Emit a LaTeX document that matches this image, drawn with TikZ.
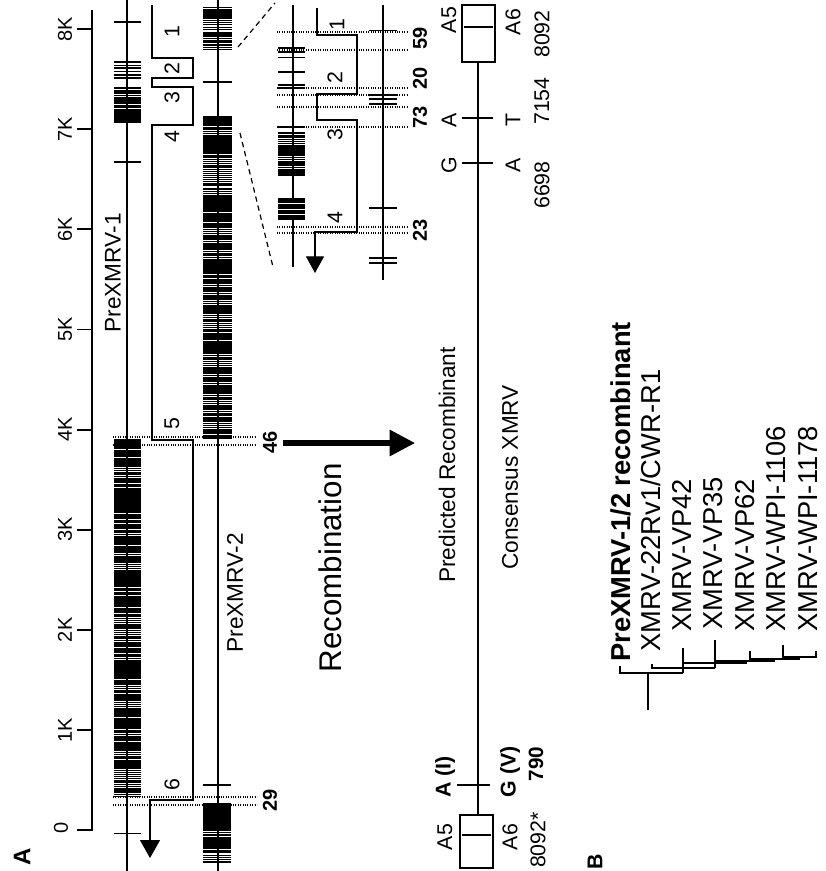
\documentclass[tikz,border=0pt]{standalone}
\usepackage{fontspec}
\setmainfont{Liberation Sans}
\usetikzlibrary{arrows.meta}
\newcommand\mutmarks[6]{%
  \pgfmathsetseed{#6}%
  \pgfmathtruncatemacro\mutn{((#4)-(#3))/(#5)}%
  \foreach \mi in {0,...,\mutn}{%
    \pgfmathsetmacro\muty{#3+\mi*#5+rnd*#5*0.4}%
    \pgfmathsetmacro\mutw{0.3+rnd*1.9}%
    \draw[line width=\mutw pt] (#1,\muty) -- (#2,\muty);%
  }%
}
\begin{document}
\begin{tikzpicture}[x=0.75pt,y=-0.75pt,
  rt/.style={rotate=90,inner sep=0pt},
  axl/.style={rt,font=\fontsize{15}{15}\selectfont},
  big/.style={rt,font=\fontsize{17}{17}\selectfont},
  seg/.style={rt,font=\fontsize{16}{16}\selectfont},
  bnum/.style={rt,font=\bfseries\fontsize{15}{15}\selectfont},
  tree/.style={rt,anchor=west,font=\fontsize{20.5}{20.5}\selectfont},
  genome/.style={line width=1.5pt},
  rpath/.style={line width=0.9pt},
  dots/.style={densely dotted,line width=0.8pt},
  brk/.style={line width=0.7pt}]
\useasboundingbox (0,0) rectangle (825,871);
\fill[white] (0,0) rectangle (825,871);

% ---------- axis ----------
\draw[line width=1.4pt] (92,10) -- (92,830) -- (77,830);
\foreach \k in {1,...,8}{
  \draw[line width=1.4pt] (77,{830-100.1*\k}) -- (92,{830-100.1*\k});
  \node[axl] (ax\k) at (65,{830-100.1*\k}) {\k K};
}
\node[axl] (ax0) at (61,828) {0};

% ---------- genome lines ----------
\draw[genome] (127,0) -- (127,871);
\draw[genome] (218,0) -- (218,871);

% PreXMRV-1 marks
\foreach \yy/\ww in {22/1.0,62/0.8,65/0.6,68/1.0,71/0.6,75/1.3,78/0.8,162/1.6,833/0.6}
  \draw[line width=\ww pt] (114,\yy) -- (141,\yy);
\mutmarks{114}{141}{88}{112}{2.4}{3}
\fill (114,112) rectangle (141,123);
\mutmarks{114}{141}{440}{797}{2.0}{5}

% PreXMRV-2 marks
\mutmarks{203}{232}{7}{50}{2.2}{7}
\draw[line width=1.3pt] (203,82) -- (232,82);
\mutmarks{203}{232}{117}{437}{2.0}{9}
\draw[line width=1.4pt] (203,785) -- (231,785);
\fill (203,803) rectangle (231,826);
\mutmarks{203}{231}{826}{862}{2.2}{11}

% recombination path (main)
\draw[rpath,-{Triangle[width=15pt,length=13.5pt]}]
  (152,5) -- (152,58) -- (193,58) -- (193,78) -- (152,78) -- (152,87)
  -- (193,87) -- (193,125) -- (152,125) -- (152,440) -- (193,440)
  -- (193,800) -- (150,800) -- (150,858);

% breakpoint dotted lines (main)
\draw[dots] (113,437) -- (255,437);
\draw[dots] (113,445) -- (255,445);
\draw[dots] (113,797) -- (257,797);
\draw[dots] (113,805) -- (257,805);
\node[bnum] (b46) at (270,442) {46};
\node[bnum] (b29) at (270,800) {29};

\node[big] (p1) at (113,273) {PreXMRV-1};
\node[big] (p2) at (235,593) {PreXMRV-2};

\node[seg] (s1) at (172,32) {1};
\node[seg] (s2) at (172,69) {2};
\node[seg] (s3) at (172,98) {3};
\node[seg] (s4) at (172,137) {4};
\node[seg] (s5) at (172,424) {5};
\node[seg] (s6) at (172,785) {6};

% ---------- inset ----------
\draw[dashed,line width=0.9pt,dash pattern=on 4pt off 3pt] (238,47) -- (275,3);
\draw[dashed,line width=0.9pt,dash pattern=on 4pt off 3pt] (240,133) -- (273,267);
\draw[genome] (293,5) -- (293,267);
\draw[genome] (383,5) -- (383,280);
% inset-1 marks
\foreach \yy/\ww in {48/0.8,52/1.0,57/0.7,72/0.9,85/1.0,88/0.8,127/1.5}
  \draw[line width=\ww pt] (278,\yy) -- (305,\yy);
\mutmarks{278}{305}{133}{175}{2.0}{13}
\fill (278,198) rectangle (305,220);
\foreach \yy in {203,209,214}
  \draw[white,line width=0.5pt] (278,\yy) -- (305,\yy);
% inset-2 marks
\foreach \yy/\ww in {30/0.5,95/1.0,99/1.0,104/1.0,208/1.6,258/2.2,263/2.2}
  \draw[line width=\ww pt] (369,\yy) -- (397,\yy);
% inset path
\draw[rpath,-{Triangle[width=13.5pt,length=12.5pt]}]
  (317,8) -- (317,35) -- (357,35) -- (357,94) -- (317,94) -- (317,120)
  -- (357,120) -- (357,232) -- (315,232) -- (315,273);
\foreach \yy in {32,50,88,95,107,127,227,233}
  \draw[dots] (277,\yy) -- (407,\yy);
\node[bnum] (b59) at (420,38) {59};
\node[bnum] (b20) at (420,78) {20};
\node[bnum] (b73) at (420,117) {73};
\node[bnum] (b23) at (420,230) {23};
\node[seg] (i1) at (337,25) {1};
\node[seg] (i2) at (335,78) {2};
\node[seg] (i3) at (335,135) {3};
\node[seg] (i4) at (335,218) {4};

% ---------- recombination arrow ----------
\draw[line width=3.8pt,-{Triangle[width=19pt,length=19pt]}] (283,443) -- (415,443);
\node[rt,font=\fontsize{23.5}{23.5}\selectfont] (rec) at (330,568) {Recombination};

% ---------- consensus ----------
\draw[line width=1pt] (478,62) -- (478,815);
\draw[line width=0.9pt] (462,5) rectangle (495,62);
\draw[line width=1.8pt] (464,27) -- (493,27);
\draw[line width=2pt] (462,118) -- (493,118);
\draw[line width=2pt] (462,163) -- (493,163);
\draw[line width=0.9pt] (460,815) rectangle (493,868);
\draw[line width=1.6pt] (462,835) -- (491,835);
\draw[line width=2pt] (457,785) -- (490,785);

\node[big,anchor=west] (pr) at (447,583) {Predicted Recombinant};
\node[big,anchor=west] (cx) at (510,570) {Consensus XMRV};

\node[seg] (ta5) at (449,20) {A5};
\node[seg] (ta6) at (513,22) {A6};
\node[seg] (t8092) at (542,34) {8092};
\node[seg] (tA1) at (449,120) {A};
\node[seg] (tG) at (449,165) {G};
\node[seg] (tT) at (513,120) {T};
\node[seg] (tA2) at (513,165) {A};
\node[seg] (t7154) at (542,101) {7154};
\node[seg] (t6698) at (542,185) {6698};

\node[seg] (ba5) at (445,837) {A5};
\node[seg] (ba6) at (510,837) {A6};
\node[seg] (b8092) at (538,840) {8092*};
\node[rt,font=\bfseries\fontsize{16}{16}\selectfont] (bAI) at (445,777) {A (I)};
\node[rt,font=\bfseries\fontsize{16}{16}\selectfont] (bGV) at (510,772) {G (V)};
\node[rt,font=\bfseries\fontsize{15.5}{15.5}\selectfont] (b790) at (536,764) {790};

% ---------- panel labels ----------
\node[rt,font=\bfseries\fontsize{18}{18}\selectfont] (pA) at (22,857) {A};
\node[rt,font=\bfseries\fontsize{16}{16}\selectfont] (pB) at (595,862) {B};

% ---------- tree ----------
\begin{scope}[line width=0.8pt]
\draw (648,710) -- (648,673);
\draw (620,666) -- (620,673) -- (683,673);
\draw (683,673) -- (683,648);
\draw (652,664) -- (652,668) -- (715,668);
\draw (715,668) -- (715,640);
\draw (683,663) -- (747,663);
\draw (715,661) -- (775,661);
\draw (750,651) -- (750,659) -- (800,659);
\draw (783,645) -- (783,657) -- (816,657) -- (816,651);
\end{scope}
\node[tree,font=\bfseries\fontsize{20.5}{20.5}\selectfont] (t0) at (621,662) {PreXMRV-1/2 recombinant};
\node[tree] (t1) at (651,652) {XMRV-22Rv1/CWR-R1};
\node[tree] (t2) at (682,632) {XMRV-VP42};
\node[tree] (t3) at (713,630) {XMRV-VP35};
\node[tree] (t4) at (745,632) {XMRV-VP62};
\node[tree] (t5) at (776,632) {XMRV-WPI-1106};
\node[tree] (t6) at (808,632) {XMRV-WPI-1178};
\end{tikzpicture}
\end{document}
